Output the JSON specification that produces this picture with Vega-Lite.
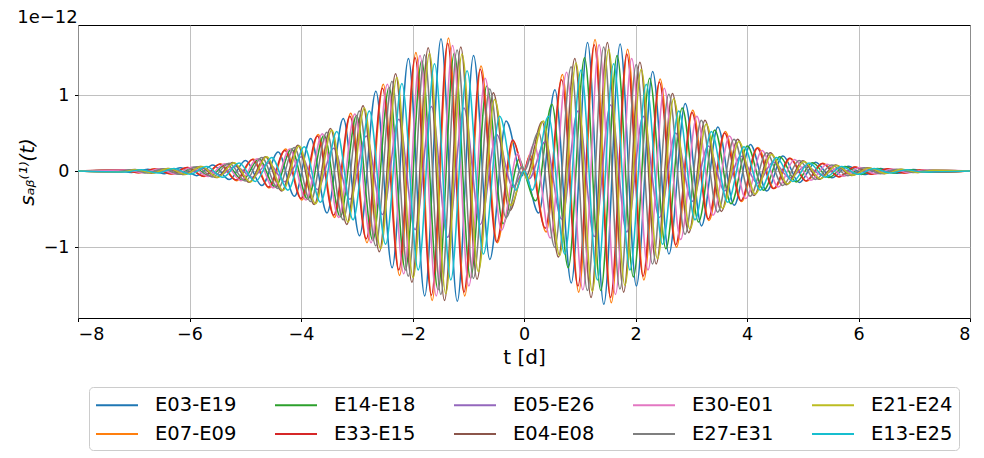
{
"$schema":"https://vega.github.io/schema/vega-lite/v6.json",
"width":892,"height":293,
"autosize":{"type":"none"},
"padding":{"left":78,"top":25,"right":14,"bottom":140},
"background":"white",
"title":{"text":"1e−12","anchor":"start","fontSize":18,"font":"DejaVu Sans","fontWeight":"normal","color":"black","baseline":"alphabetic","offset":4,"dy":20},
"config":{
"font":"DejaVu Sans",
"view":{"stroke":"black","strokeWidth":1},
"range":{"category":["#1f77b4","#ff7f0e","#2ca02c","#d62728","#9467bd","#8c564b","#e377c2","#7f7f7f","#bcbd22","#17becf"]},
"axis":{"grid":true,"gridColor":"#b0b0b0","gridWidth":0.8,"domain":false,"tickColor":"black","tickSize":3.5,"labelFontSize":17.5,"labelColor":"black","titleFontSize":20,"titleColor":"black","titleFontWeight":"normal","labelFont":"DejaVu Sans","titleFont":"DejaVu Sans"},
"legend":{"orient":"none","legendX":11,"legendY":362,"columns":5,"title":null,"symbolType":"M-1,0H2.818","symbolSize":484,"symbolStrokeWidth":2,"labelFontSize":19.5,"labelFont":"DejaVu Sans","labelColor":"black","labelOffset":36,"columnPadding":34,"rowPadding":7,"padding":6,"strokeColor":"#cccccc","fillColor":"white","cornerRadius":4,"gridAlign":"all"}
},
"datasets":{
"E03-E19":[{"t":-8,"s":0},{"t":-7.331,"s":0.013},{"t":-7.039,"s":-0.019},{"t":-6.747,"s":0.026},{"t":-6.455,"s":-0.034},{"t":-6.163,"s":0.044},{"t":-5.871,"s":-0.06},{"t":-5.579,"s":0.082},{"t":-5.287,"s":-0.111},{"t":-4.994,"s":0.14},{"t":-4.702,"s":-0.19},{"t":-4.41,"s":0.25},{"t":-4.118,"s":-0.33},{"t":-3.826,"s":0.43},{"t":-3.534,"s":-0.55},{"t":-3.242,"s":0.69},{"t":-2.95,"s":-0.85},{"t":-2.657,"s":1.05},{"t":-2.365,"s":-1.27},{"t":-2.073,"s":1.48},{"t":-1.781,"s":-1.64},{"t":-1.489,"s":1.74},{"t":-1.197,"s":-1.71},{"t":-0.905,"s":1.52},{"t":-0.613,"s":-1.16},{"t":-0.321,"s":0.66},{"t":-0.029,"s":-0.06},{"t":0,"s":0},{"t":0.263,"s":-0.55},{"t":0.555,"s":1.07},{"t":0.848,"s":-1.47},{"t":1.14,"s":1.69},{"t":1.432,"s":-1.75},{"t":1.724,"s":1.67},{"t":2.016,"s":-1.51},{"t":2.308,"s":1.31},{"t":2.6,"s":-1.09},{"t":2.892,"s":0.89},{"t":3.184,"s":-0.72},{"t":3.477,"s":0.58},{"t":3.769,"s":-0.45},{"t":4.061,"s":0.35},{"t":4.353,"s":-0.26},{"t":4.645,"s":0.2},{"t":4.937,"s":-0.15},{"t":5.229,"s":0.117},{"t":5.521,"s":-0.088},{"t":5.813,"s":0.064},{"t":6.105,"s":-0.046},{"t":6.397,"s":0.036},{"t":6.689,"s":-0.028},{"t":6.981,"s":0.02},{"t":7.273,"s":-0.014},{"t":8,"s":0}],
"E07-E09":[{"t":-8,"s":0},{"t":-7.196,"s":0.015},{"t":-6.904,"s":-0.023},{"t":-6.612,"s":0.03},{"t":-6.32,"s":-0.039},{"t":-6.028,"s":0.049},{"t":-5.736,"s":-0.07},{"t":-5.444,"s":0.096},{"t":-5.152,"s":-0.125},{"t":-4.86,"s":0.16},{"t":-4.568,"s":-0.22},{"t":-4.276,"s":0.29},{"t":-3.984,"s":-0.38},{"t":-3.692,"s":0.48},{"t":-3.4,"s":-0.61},{"t":-3.108,"s":0.76},{"t":-2.816,"s":-0.94},{"t":-2.524,"s":1.14},{"t":-2.232,"s":-1.37},{"t":-1.939,"s":1.56},{"t":-1.647,"s":-1.7},{"t":-1.355,"s":1.75},{"t":-1.063,"s":-1.64},{"t":-0.771,"s":1.38},{"t":-0.479,"s":-0.94},{"t":-0.187,"s":0.39},{"t":0,"s":0},{"t":0.105,"s":0.22},{"t":0.397,"s":-0.8},{"t":0.689,"s":1.27},{"t":0.982,"s":-1.59},{"t":1.274,"s":1.73},{"t":1.566,"s":-1.73},{"t":1.858,"s":1.6},{"t":2.15,"s":-1.43},{"t":2.442,"s":1.21},{"t":2.734,"s":-1.0},{"t":3.026,"s":0.8},{"t":3.318,"s":-0.65},{"t":3.61,"s":0.52},{"t":3.903,"s":-0.4},{"t":4.195,"s":0.31},{"t":4.487,"s":-0.23},{"t":4.779,"s":0.17},{"t":5.071,"s":-0.133},{"t":5.363,"s":0.104},{"t":5.655,"s":-0.076},{"t":5.947,"s":0.054},{"t":6.239,"s":-0.041},{"t":6.531,"s":0.032},{"t":6.823,"s":-0.024},{"t":7.115,"s":0.017},{"t":7.407,"s":-0.012},{"t":8,"s":0}],
"E14-E18":[{"t":-8,"s":0},{"t":-7.093,"s":0.016},{"t":-6.801,"s":-0.022},{"t":-6.509,"s":0.03},{"t":-6.217,"s":-0.038},{"t":-5.925,"s":0.05},{"t":-5.633,"s":-0.069},{"t":-5.34,"s":0.095},{"t":-5.048,"s":-0.12},{"t":-4.756,"s":0.16},{"t":-4.464,"s":-0.21},{"t":-4.172,"s":0.29},{"t":-3.88,"s":-0.37},{"t":-3.588,"s":0.47},{"t":-3.296,"s":-0.6},{"t":-3.004,"s":0.73},{"t":-2.712,"s":-0.91},{"t":-2.42,"s":1.1},{"t":-2.128,"s":-1.3},{"t":-1.835,"s":1.45},{"t":-1.543,"s":-1.56},{"t":-1.251,"s":1.55},{"t":-0.959,"s":-1.41},{"t":-0.667,"s":1.12},{"t":-0.375,"s":-0.69},{"t":-0.083,"s":0.16},{"t":0,"s":0},{"t":0.209,"s":-0.39},{"t":0.501,"s":0.88},{"t":0.794,"s":-1.27},{"t":1.086,"s":1.49},{"t":1.378,"s":-1.57},{"t":1.67,"s":1.52},{"t":1.962,"s":-1.39},{"t":2.254,"s":1.22},{"t":2.546,"s":-1.02},{"t":2.838,"s":0.83},{"t":3.13,"s":-0.67},{"t":3.422,"s":0.54},{"t":3.714,"s":-0.43},{"t":4.006,"s":0.33},{"t":4.298,"s":-0.25},{"t":4.59,"s":0.19},{"t":4.882,"s":-0.142},{"t":5.174,"s":0.11},{"t":5.466,"s":-0.084},{"t":5.758,"s":0.061},{"t":6.05,"s":-0.043},{"t":6.342,"s":0.034},{"t":6.634,"s":-0.026},{"t":6.926,"s":0.019},{"t":7.218,"s":-0.013},{"t":8,"s":0}],
"E33-E15":[{"t":-8,"s":0},{"t":-7.211,"s":0.014},{"t":-6.919,"s":-0.021},{"t":-6.627,"s":0.028},{"t":-6.335,"s":-0.036},{"t":-6.043,"s":0.046},{"t":-5.751,"s":-0.066},{"t":-5.459,"s":0.09},{"t":-5.167,"s":-0.118},{"t":-4.874,"s":0.153},{"t":-4.582,"s":-0.21},{"t":-4.29,"s":0.27},{"t":-3.998,"s":-0.36},{"t":-3.706,"s":0.46},{"t":-3.414,"s":-0.58},{"t":-3.122,"s":0.72},{"t":-2.83,"s":-0.89},{"t":-2.538,"s":1.09},{"t":-2.246,"s":-1.3},{"t":-1.954,"s":1.49},{"t":-1.661,"s":-1.63},{"t":-1.369,"s":1.68},{"t":-1.077,"s":-1.59},{"t":-0.785,"s":1.34},{"t":-0.493,"s":-0.93},{"t":-0.201,"s":0.41},{"t":0,"s":0},{"t":0.091,"s":0.18},{"t":0.383,"s":-0.75},{"t":0.675,"s":1.2},{"t":0.968,"s":-1.51},{"t":1.26,"s":1.66},{"t":1.552,"s":-1.66},{"t":1.844,"s":1.54},{"t":2.136,"s":-1.38},{"t":2.428,"s":1.17},{"t":2.72,"s":-0.97},{"t":3.012,"s":0.77},{"t":3.304,"s":-0.63},{"t":3.596,"s":0.5},{"t":3.889,"s":-0.39},{"t":4.181,"s":0.3},{"t":4.473,"s":-0.23},{"t":4.765,"s":0.17},{"t":5.057,"s":-0.129},{"t":5.349,"s":0.101},{"t":5.641,"s":-0.074},{"t":5.933,"s":0.053},{"t":6.225,"s":-0.04},{"t":6.517,"s":0.032},{"t":6.809,"s":-0.024},{"t":7.101,"s":0.016},{"t":7.393,"s":-0.012},{"t":8,"s":0}],
"E05-E26":[{"t":-8,"s":0},{"t":-7.211,"s":-0.008},{"t":-6.919,"s":0.011},{"t":-6.627,"s":-0.015},{"t":-6.335,"s":0.019},{"t":-6.043,"s":-0.024},{"t":-5.751,"s":0.035},{"t":-5.459,"s":-0.047},{"t":-5.167,"s":0.062},{"t":-4.874,"s":-0.08},{"t":-4.582,"s":0.107},{"t":-4.29,"s":-0.14},{"t":-3.998,"s":0.19},{"t":-3.706,"s":-0.24},{"t":-3.414,"s":0.3},{"t":-3.122,"s":-0.37},{"t":-2.83,"s":0.46},{"t":-2.538,"s":-0.57},{"t":-2.246,"s":0.68},{"t":-1.954,"s":-0.77},{"t":-1.661,"s":0.85},{"t":-1.369,"s":-0.87},{"t":-1.077,"s":0.83},{"t":-0.785,"s":-0.7},{"t":-0.493,"s":0.48},{"t":-0.201,"s":-0.21},{"t":0,"s":0},{"t":0.091,"s":-0.1},{"t":0.383,"s":0.39},{"t":0.675,"s":-0.63},{"t":0.968,"s":0.79},{"t":1.26,"s":-0.86},{"t":1.552,"s":0.87},{"t":1.844,"s":-0.8},{"t":2.136,"s":0.72},{"t":2.428,"s":-0.61},{"t":2.72,"s":0.5},{"t":3.012,"s":-0.4},{"t":3.304,"s":0.33},{"t":3.596,"s":-0.26},{"t":3.889,"s":0.2},{"t":4.181,"s":-0.16},{"t":4.473,"s":0.12},{"t":4.765,"s":-0.089},{"t":5.057,"s":0.067},{"t":5.349,"s":-0.052},{"t":5.641,"s":0.038},{"t":5.933,"s":-0.028},{"t":6.225,"s":0.021},{"t":6.517,"s":-0.016},{"t":6.809,"s":0.012},{"t":7.101,"s":-0.009},{"t":7.393,"s":0.006},{"t":8,"s":0}],
"E04-E08":[{"t":-8,"s":0},{"t":-7.268,"s":-0.014},{"t":-6.976,"s":0.02},{"t":-6.684,"s":-0.027},{"t":-6.392,"s":0.035},{"t":-6.1,"s":-0.045},{"t":-5.808,"s":0.062},{"t":-5.516,"s":-0.085},{"t":-5.224,"s":0.114},{"t":-4.931,"s":-0.146},{"t":-4.639,"s":0.19},{"t":-4.347,"s":-0.26},{"t":-4.055,"s":0.34},{"t":-3.763,"s":-0.44},{"t":-3.471,"s":0.56},{"t":-3.179,"s":-0.7},{"t":-2.887,"s":0.86},{"t":-2.595,"s":-1.06},{"t":-2.303,"s":1.28},{"t":-2.01,"s":-1.46},{"t":-1.718,"s":1.62},{"t":-1.426,"s":-1.7},{"t":-1.134,"s":1.63},{"t":-0.842,"s":-1.42},{"t":-0.55,"s":1.03},{"t":-0.258,"s":-0.52},{"t":0,"s":0},{"t":0.034,"s":-0.07},{"t":0.326,"s":0.65},{"t":0.618,"s":-1.13},{"t":0.911,"s":1.48},{"t":1.203,"s":-1.66},{"t":1.495,"s":1.69},{"t":1.787,"s":-1.59},{"t":2.079,"s":1.43},{"t":2.371,"s":-1.22},{"t":2.663,"s":1.02},{"t":2.955,"s":-0.81},{"t":3.247,"s":0.67},{"t":3.54,"s":-0.53},{"t":3.832,"s":0.42},{"t":4.124,"s":-0.32},{"t":4.416,"s":0.24},{"t":4.708,"s":-0.18},{"t":5.0,"s":0.136},{"t":5.292,"s":-0.108},{"t":5.584,"s":0.08},{"t":5.876,"s":-0.057},{"t":6.168,"s":0.043},{"t":6.461,"s":-0.033},{"t":6.753,"s":0.025},{"t":7.045,"s":-0.018},{"t":7.337,"s":0.013},{"t":8,"s":0}],
"E30-E01":[{"t":-8,"s":0},{"t":-7.123,"s":0.016},{"t":-6.831,"s":-0.023},{"t":-6.539,"s":0.03},{"t":-6.247,"s":-0.039},{"t":-5.955,"s":0.05},{"t":-5.663,"s":-0.071},{"t":-5.37,"s":0.098},{"t":-5.078,"s":-0.125},{"t":-4.786,"s":0.164},{"t":-4.494,"s":-0.22},{"t":-4.202,"s":0.29},{"t":-3.91,"s":-0.38},{"t":-3.618,"s":0.49},{"t":-3.326,"s":-0.61},{"t":-3.034,"s":0.75},{"t":-2.742,"s":-0.94},{"t":-2.45,"s":1.14},{"t":-2.158,"s":-1.35},{"t":-1.865,"s":1.52},{"t":-1.573,"s":-1.64},{"t":-1.281,"s":1.65},{"t":-0.989,"s":-1.51},{"t":-0.697,"s":1.22},{"t":-0.405,"s":-0.78},{"t":-0.113,"s":0.23},{"t":0,"s":0},{"t":0.179,"s":0.36},{"t":0.471,"s":-0.88},{"t":0.764,"s":1.3},{"t":1.056,"s":-1.56},{"t":1.348,"s":1.66},{"t":1.64,"s":-1.62},{"t":1.932,"s":1.48},{"t":2.224,"s":-1.3},{"t":2.516,"s":1.09},{"t":2.808,"s":-0.9},{"t":3.1,"s":0.72},{"t":3.392,"s":-0.58},{"t":3.685,"s":0.46},{"t":3.977,"s":-0.36},{"t":4.269,"s":0.27},{"t":4.561,"s":-0.21},{"t":4.853,"s":0.154},{"t":5.145,"s":-0.12},{"t":5.437,"s":0.091},{"t":5.729,"s":-0.067},{"t":6.021,"s":0.047},{"t":6.313,"s":-0.037},{"t":6.605,"s":0.029},{"t":6.897,"s":-0.021},{"t":7.189,"s":0.014},{"t":8,"s":0}],
"E27-E31":[{"t":-8,"s":0},{"t":-7.334,"s":-0.012},{"t":-7.042,"s":0.018},{"t":-6.75,"s":-0.024},{"t":-6.458,"s":0.032},{"t":-6.166,"s":-0.041},{"t":-5.874,"s":0.056},{"t":-5.582,"s":-0.076},{"t":-5.29,"s":0.103},{"t":-4.997,"s":-0.13},{"t":-4.705,"s":0.18},{"t":-4.413,"s":-0.23},{"t":-4.121,"s":0.31},{"t":-3.829,"s":-0.4},{"t":-3.537,"s":0.51},{"t":-3.245,"s":-0.64},{"t":-2.953,"s":0.79},{"t":-2.66,"s":-0.98},{"t":-2.368,"s":1.18},{"t":-2.076,"s":-1.38},{"t":-1.784,"s":1.53},{"t":-1.492,"s":-1.62},{"t":-1.2,"s":1.59},{"t":-0.908,"s":-1.41},{"t":-0.616,"s":1.08},{"t":-0.324,"s":-0.61},{"t":-0.032,"s":0.06},{"t":0,"s":0},{"t":0.26,"s":0.51},{"t":0.552,"s":-1.0},{"t":0.845,"s":1.37},{"t":1.137,"s":-1.57},{"t":1.429,"s":1.63},{"t":1.721,"s":-1.55},{"t":2.013,"s":1.4},{"t":2.305,"s":-1.22},{"t":2.597,"s":1.01},{"t":2.889,"s":-0.83},{"t":3.181,"s":0.67},{"t":3.474,"s":-0.54},{"t":3.766,"s":0.42},{"t":4.058,"s":-0.33},{"t":4.35,"s":0.24},{"t":4.642,"s":-0.19},{"t":4.934,"s":0.14},{"t":5.226,"s":-0.109},{"t":5.518,"s":0.082},{"t":5.81,"s":-0.06},{"t":6.102,"s":0.043},{"t":6.394,"s":-0.033},{"t":6.686,"s":0.026},{"t":6.978,"s":-0.019},{"t":7.27,"s":0.013},{"t":8,"s":0}],
"E21-E24":[{"t":-8,"s":0},{"t":-7.245,"s":-0.013},{"t":-6.953,"s":0.019},{"t":-6.661,"s":-0.026},{"t":-6.369,"s":0.034},{"t":-6.077,"s":-0.043},{"t":-5.785,"s":0.061},{"t":-5.493,"s":-0.084},{"t":-5.201,"s":0.11},{"t":-4.908,"s":-0.142},{"t":-4.616,"s":0.19},{"t":-4.324,"s":-0.25},{"t":-4.032,"s":0.33},{"t":-3.74,"s":-0.43},{"t":-3.448,"s":0.54},{"t":-3.156,"s":-0.67},{"t":-2.864,"s":0.83},{"t":-2.572,"s":-1.02},{"t":-2.28,"s":1.23},{"t":-1.988,"s":-1.4},{"t":-1.695,"s":1.55},{"t":-1.403,"s":-1.61},{"t":-1.111,"s":1.54},{"t":-0.819,"s":-1.32},{"t":-0.527,"s":0.94},{"t":-0.235,"s":-0.45},{"t":0,"s":0},{"t":0.057,"s":-0.11},{"t":0.349,"s":0.66},{"t":0.641,"s":-1.11},{"t":0.934,"s":1.42},{"t":1.226,"s":-1.58},{"t":1.518,"s":1.6},{"t":1.81,"s":-1.5},{"t":2.102,"s":1.34},{"t":2.394,"s":-1.15},{"t":2.686,"s":0.95},{"t":2.978,"s":-0.76},{"t":3.27,"s":0.62},{"t":3.563,"s":-0.49},{"t":3.855,"s":0.39},{"t":4.147,"s":-0.3},{"t":4.439,"s":0.22},{"t":4.731,"s":-0.17},{"t":5.023,"s":0.127},{"t":5.315,"s":-0.1},{"t":5.607,"s":0.073},{"t":5.899,"s":-0.053},{"t":6.191,"s":0.04},{"t":6.484,"s":-0.031},{"t":6.776,"s":0.024},{"t":7.068,"s":-0.017},{"t":7.36,"s":0.012},{"t":8,"s":0}],
"E13-E25":[{"t":-8,"s":0},{"t":-7.154,"s":-0.013},{"t":-6.862,"s":0.019},{"t":-6.57,"s":-0.025},{"t":-6.278,"s":0.034},{"t":-5.986,"s":-0.042},{"t":-5.694,"s":0.06},{"t":-5.402,"s":-0.082},{"t":-5.11,"s":0.106},{"t":-4.818,"s":-0.137},{"t":-4.526,"s":0.18},{"t":-4.234,"s":-0.25},{"t":-3.942,"s":0.32},{"t":-3.65,"s":-0.41},{"t":-3.358,"s":0.52},{"t":-3.066,"s":-0.64},{"t":-2.774,"s":0.79},{"t":-2.482,"s":-0.96},{"t":-2.19,"s":1.15},{"t":-1.897,"s":-1.3},{"t":-1.605,"s":1.41},{"t":-1.313,"s":-1.43},{"t":-1.021,"s":1.32},{"t":-0.729,"s":-1.09},{"t":-0.437,"s":0.72},{"t":-0.145,"s":-0.25},{"t":0,"s":0},{"t":0.147,"s":-0.25},{"t":0.439,"s":0.72},{"t":0.732,"s":-1.09},{"t":1.024,"s":1.33},{"t":1.316,"s":-1.43},{"t":1.608,"s":1.41},{"t":1.9,"s":-1.3},{"t":2.192,"s":1.14},{"t":2.484,"s":-0.96},{"t":2.776,"s":0.79},{"t":3.068,"s":-0.64},{"t":3.36,"s":0.52},{"t":3.653,"s":-0.41},{"t":3.945,"s":0.32},{"t":4.237,"s":-0.25},{"t":4.529,"s":0.18},{"t":4.821,"s":-0.137},{"t":5.113,"s":0.106},{"t":5.405,"s":-0.081},{"t":5.697,"s":0.06},{"t":5.989,"s":-0.042},{"t":6.281,"s":0.033},{"t":6.573,"s":-0.025},{"t":6.865,"s":0.019},{"t":7.157,"s":-0.013},{"t":8,"s":0}]
},
"encoding":{
"x":{"field":"t","type":"quantitative","scale":{"domain":[-8,8],"nice":false,"zero":false},"axis":{"values":[-8,-6,-4,-2,0,2,4,6,8],"title":"t [d]","labelPadding":4,"titlePadding":4}},
"y":{"field":"s","type":"quantitative","scale":{"domain":[-1.93,1.92],"nice":false,"zero":false},"axis":{"values":[-1,0,1],"title":"sₐᵦ⁽¹⁾(t)","titleFontStyle":"italic","labelPadding":5.5,"titlePadding":6}}
},
"layer":[
{"data":{"name":"E03-E19"},"mark":{"type":"line","interpolate":"monotone","strokeWidth":1.5},"encoding":{"color":{"datum":"E03-E19","type":"nominal","scale":{"domain":["E03-E19","E07-E09","E14-E18","E33-E15","E05-E26","E04-E08","E30-E01","E27-E31","E21-E24","E13-E25"]}}}},
{"data":{"name":"E07-E09"},"mark":{"type":"line","interpolate":"monotone","strokeWidth":1.5},"encoding":{"color":{"datum":"E07-E09","type":"nominal","scale":{"domain":["E03-E19","E07-E09","E14-E18","E33-E15","E05-E26","E04-E08","E30-E01","E27-E31","E21-E24","E13-E25"]}}}},
{"data":{"name":"E14-E18"},"mark":{"type":"line","interpolate":"monotone","strokeWidth":1.5},"encoding":{"color":{"datum":"E14-E18","type":"nominal","scale":{"domain":["E03-E19","E07-E09","E14-E18","E33-E15","E05-E26","E04-E08","E30-E01","E27-E31","E21-E24","E13-E25"]}}}},
{"data":{"name":"E33-E15"},"mark":{"type":"line","interpolate":"monotone","strokeWidth":1.5},"encoding":{"color":{"datum":"E33-E15","type":"nominal","scale":{"domain":["E03-E19","E07-E09","E14-E18","E33-E15","E05-E26","E04-E08","E30-E01","E27-E31","E21-E24","E13-E25"]}}}},
{"data":{"name":"E05-E26"},"mark":{"type":"line","interpolate":"monotone","strokeWidth":1.5},"encoding":{"color":{"datum":"E05-E26","type":"nominal","scale":{"domain":["E03-E19","E07-E09","E14-E18","E33-E15","E05-E26","E04-E08","E30-E01","E27-E31","E21-E24","E13-E25"]}}}},
{"data":{"name":"E04-E08"},"mark":{"type":"line","interpolate":"monotone","strokeWidth":1.5},"encoding":{"color":{"datum":"E04-E08","type":"nominal","scale":{"domain":["E03-E19","E07-E09","E14-E18","E33-E15","E05-E26","E04-E08","E30-E01","E27-E31","E21-E24","E13-E25"]}}}},
{"data":{"name":"E30-E01"},"mark":{"type":"line","interpolate":"monotone","strokeWidth":1.5},"encoding":{"color":{"datum":"E30-E01","type":"nominal","scale":{"domain":["E03-E19","E07-E09","E14-E18","E33-E15","E05-E26","E04-E08","E30-E01","E27-E31","E21-E24","E13-E25"]}}}},
{"data":{"name":"E27-E31"},"mark":{"type":"line","interpolate":"monotone","strokeWidth":1.5},"encoding":{"color":{"datum":"E27-E31","type":"nominal","scale":{"domain":["E03-E19","E07-E09","E14-E18","E33-E15","E05-E26","E04-E08","E30-E01","E27-E31","E21-E24","E13-E25"]}}}},
{"data":{"name":"E21-E24"},"mark":{"type":"line","interpolate":"monotone","strokeWidth":1.5},"encoding":{"color":{"datum":"E21-E24","type":"nominal","scale":{"domain":["E03-E19","E07-E09","E14-E18","E33-E15","E05-E26","E04-E08","E30-E01","E27-E31","E21-E24","E13-E25"]}}}},
{"data":{"name":"E13-E25"},"mark":{"type":"line","interpolate":"monotone","strokeWidth":1.5},"encoding":{"color":{"datum":"E13-E25","type":"nominal","scale":{"domain":["E03-E19","E07-E09","E14-E18","E33-E15","E05-E26","E04-E08","E30-E01","E27-E31","E21-E24","E13-E25"]}}}}
]
}
